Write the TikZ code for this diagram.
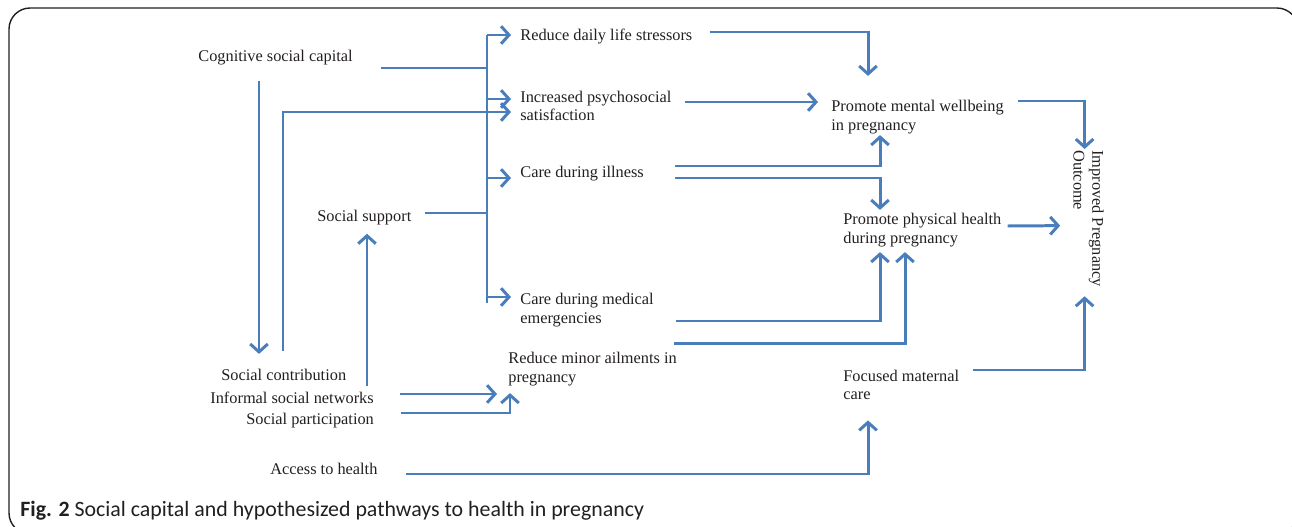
\documentclass[tikz,border=0pt]{standalone}
\usepackage{fontspec}
\setmainfont{Liberation Serif}
\newfontfamily\capfont{Carlito}
\usetikzlibrary{arrows.meta,calc}

\definecolor{pathblue}{HTML}{4A7EBB}
\definecolor{inkgray}{HTML}{231F20}

\begin{document}
\begin{tikzpicture}[x=0.02cm, y=-0.02cm,
  lbl/.style={inner sep=0pt, anchor=west, align=left, text=inkgray, font=\fontsize{9.3}{10.6}\selectfont},
  line/.style={draw=pathblue, line width=1.7pt},
  arrow/.style={line, -{Straight Barb[length=4.5pt, width=10pt]}}]
\useasboundingbox (0,0) rectangle (1292,527);
\draw[inkgray, line width=0.8pt, rounded corners=12] (9,8) rectangle (1298,534);

% social capital sources
\node[lbl] (cog) at (198,58) {Cognitive social capital};
\node[lbl] (sup) at (317,218) {Social support};
\node[lbl] (contr) at (221,375) {Social contribution};
\node[lbl] (infor) at (210,398) {Informal social networks};
\node[lbl] (partic) at (246,421) {Social participation};
\node[lbl] (access) at (270,469) {Access to health};

% pathways
\node[lbl] (stress) at (520,37) {Reduce daily life stressors};
\node[lbl] (psy) at (520,106) {Increased psychosocial\\satisfaction};
\node[lbl] (ill) at (520,174) {Care during illness};
\node[lbl] (emer) at (520,310) {Care during medical\\emergencies};
\node[lbl] (minor) at (508,369) {Reduce minor ailments in\\pregnancy};

% health effects
\node[lbl] (mental) at (831,117) {Promote mental wellbeing\\in pregnancy};
\node[lbl] (phys) at (843,230) {Promote physical health\\during pregnancy};
\node[lbl] (focus) at (843,385) {Focused maternal\\care};
\node[lbl, rotate=-90, anchor=north west] (outc) at (1104,150) {Improved Pregnancy\\Outcome};

\node[inner sep=0pt, anchor=west, text=inkgray, font=\capfont\fontsize{12.45}{14}\selectfont] (cap) at (20,511)
  {\textbf{Fig. 2} Social capital and hypothesized pathways to health in pregnancy};

% bus from cognitive capital and social support
\coordinate (bustop) at (487,35);
\coordinate (busbot) at (487,303);
\draw[line] (bustop) -- (busbot);
\draw[line] ($(cog.east)+(28,10)$) coordinate (c1) -- (bustop |- c1);
\draw[line] ($(sup.east)+(13,-5)$) coordinate (s1) -- (bustop |- s1);
\draw[arrow] (bustop) -- ($(stress.west)+(-9,-2)$);
\draw[arrow] ($(psy.west)+(-33,-7)$) -- ($(psy.west)+(-9,-7)$);
\draw[arrow] ($(ill.west)+(-33,4)$) -- ($(ill.west)+(-9,4)$);
\draw[arrow] ($(emer.west)+(-33,-13)$) -- ($(emer.west)+(-9,-13)$);

% structural capital
\coordinate (contrtop) at ($(contr.north)+(0,-15)$);
\coordinate (suptip) at ($(sup.south)+(0,8)$);
\draw[arrow] ($(cog.south west)+(61,15)$) coordinate (c2) -- (c2 |- contrtop);
\draw[arrow] ($(contr.north west)+(62,-18)$) |- ($(psy.west)+(-9,6)$);
\draw[arrow] ($(infor.north west)+(157,-6)$) coordinate (i1) -- (i1 |- suptip);
\draw[arrow] ($(infor.east)+(26,-4)$) -- ($(minor.west)+(-11,25)$);
\draw[arrow] ($(partic.east)+(27,-8)$) -| ($(minor.south west)+(2,7)$);
\draw[arrow] ($(access.east)+(28,5)$) -| ($(focus.south west)+(25,20)$);

% pathways to health
\draw[arrow] ($(stress.east)+(17,-5)$) -| ($(mental.north west)+(37,-24)$);
\draw[arrow] ($(psy.east)+(13,-4)$) -- ($(mental.west)+(-13,-15)$);
\draw[arrow] ($(ill.east)+(31,-8)$) -| ($(mental.south west)+(49,1)$);
\draw[arrow] ($(ill.east)+(31,4)$) -| ($(phys.north west)+(37,-3)$);
\draw[arrow] ($(emer.east)+(22,11)$) -| ($(phys.south west)+(37,5)$);
\draw[arrow] ($(minor.north east)+(-3,-8)$) -| ($(phys.south west)+(62,5)$);

% to outcome
\draw[arrow] ($(mental.east)+(14,-16)$) -| ($(outc.west)+(-4,-1)$);
\draw[arrow] ($(phys.east)+(6,-4)$) -- ($(outc.south)+(-13,7)$);
\draw[arrow] ($(focus.east)+(14,-15)$) -| ($(outc.east)+(-4,9)$);
\end{tikzpicture}
\end{document}
